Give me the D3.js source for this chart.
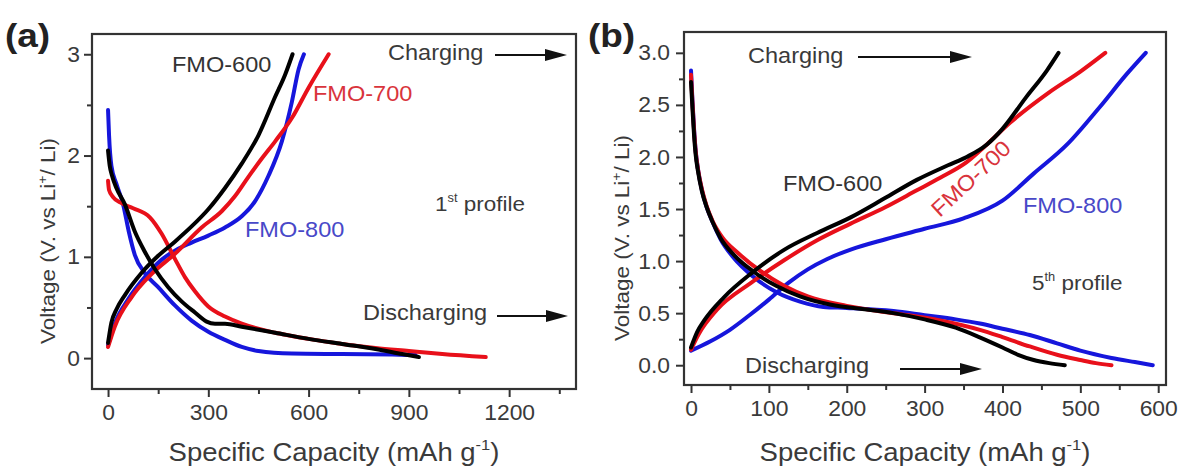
<!DOCTYPE html>
<html><head><meta charset="utf-8">
<script src="https://cdn.jsdelivr.net/npm/d3@7"></script>
<style>body{margin:0;background:#fff}svg{display:block}text{font-family:"Liberation Sans",Arial,sans-serif}</style>
</head><body><svg id="c" width="1180" height="468"></svg>
<script>
// ---------- tick values ----------
const aXTicks = [0, 300, 600, 900, 1200];
const aXMinor = [150, 450, 750, 1050, 1350];
const aYTicks = [0, 1, 2, 3];
const aYMinor = [0.5, 1.5, 2.5];
const bXTicks = [0, 100, 200, 300, 400, 500, 600];
const bXMinor = [50, 150, 250, 350, 450, 550];
const bYTicks = [0, 0.5, 1.0, 1.5, 2.0, 2.5, 3.0];
const bYMinor = [0.25, 0.75, 1.25, 1.75, 2.25, 2.75];

const seriesNames = ["FMO-600", "FMO-700", "FMO-800"];

// ---------- panel (a): 1st profile [capacity, voltage] ----------
const a600Dis = [[0,2.05],[5,1.9],[12,1.8],[25,1.68],[50,1.52],[80,1.25],[110,1.05],[140,0.88],[180,0.70],[220,0.56],[260,0.45],[295,0.36],[320,0.34],[350,0.34],[400,0.31],[500,0.25],[600,0.19],[700,0.14],[800,0.09],[880,0.04],[930,0.01]];
const a600Chg = [[0,0.15],[10,0.35],[25,0.48],[50,0.62],[100,0.84],[150,1.01],[200,1.15],[250,1.30],[300,1.47],[350,1.68],[400,1.92],[450,2.2],[500,2.58],[530,2.8],[552,3.0]];
const a700Dis = [[0,1.75],[3,1.66],[15,1.59],[40,1.53],[75,1.48],[125,1.39],[160,1.23],[200,0.98],[230,0.80],[260,0.66],[300,0.51],[350,0.41],[400,0.34],[500,0.25],[600,0.19],[700,0.14],[800,0.10],[900,0.07],[1000,0.04],[1130,0.01]];
const a700Chg = [[0,0.11],[20,0.31],[70,0.60],[130,0.83],[200,1.03],[280,1.29],[340,1.45],[380,1.6],[420,1.79],[460,1.97],[500,2.14],[550,2.37],[600,2.67],[660,3.0]];
const a800Dis = [[0,2.45],[3,2.2],[10,1.9],[25,1.72],[45,1.52],[62,1.25],[80,1.02],[110,0.84],[150,0.70],[200,0.52],[250,0.37],[300,0.26],[350,0.18],[400,0.11],[450,0.07],[550,0.045],[700,0.04],[850,0.035],[920,0.03]];
const a800Chg = [[0,0.13],[20,0.34],[60,0.58],[110,0.80],[160,0.97],[210,1.08],[250,1.14],[300,1.21],[350,1.29],[400,1.40],[440,1.55],[480,1.80],[520,2.14],[550,2.53],[570,2.85],[586,3.0]];

// ---------- panel (b): 5th profile ----------
const b600Dis = [[0,2.72],[2,2.45],[4,2.2],[6,2.02],[9,1.86],[14,1.67],[20,1.52],[28,1.37],[38,1.22],[55,1.06],[80,0.9],[110,0.76],[140,0.66],[180,0.58],[220,0.54],[260,0.5],[300,0.44],[340,0.36],[370,0.27],[400,0.17],[420,0.1],[440,0.05],[460,0.02],[480,0.0]];
const b600Chg = [[0,0.17],[8,0.32],[17,0.43],[42,0.65],[77,0.88],[120,1.11],[162,1.27],[205,1.42],[248,1.6],[290,1.78],[330,1.92],[354,2.0],[380,2.12],[400,2.27],[430,2.57],[457,2.83],[472,3.0]];
const b700Dis = [[0,2.79],[2,2.5],[4,2.24],[6,2.05],[9,1.88],[14,1.69],[20,1.53],[28,1.38],[40,1.23],[60,1.08],[90,0.9],[120,0.76],[150,0.66],[200,0.57],[240,0.52],[280,0.48],[320,0.43],[371,0.34],[400,0.27],[435,0.18],[470,0.1],[500,0.05],[520,0.02],[540,0.0]];
const b700Chg = [[0,0.15],[10,0.3],[33,0.53],[77,0.79],[120,1.01],[162,1.2],[205,1.36],[250,1.52],[290,1.68],[320,1.8],[354,1.95],[380,2.12],[410,2.33],[460,2.62],[500,2.82],[532,3.0]];
const b800Dis = [[0,2.83],[2,2.52],[4,2.26],[6,2.06],[9,1.88],[14,1.68],[20,1.52],[28,1.37],[38,1.21],[55,1.03],[80,0.85],[110,0.70],[140,0.61],[170,0.56],[200,0.55],[260,0.52],[300,0.48],[340,0.44],[371,0.40],[400,0.35],[435,0.29],[470,0.21],[500,0.14],[540,0.07],[570,0.03],[593,0.0]];
const b800Chg = [[0,0.14],[25,0.23],[50,0.34],[75,0.48],[100,0.63],[125,0.79],[150,0.92],[175,1.02],[205,1.11],[250,1.21],[300,1.31],[350,1.41],[400,1.58],[440,1.84],[483,2.12],[525,2.48],[560,2.8],[584,3.0]];

const colors = {"FMO-600":"#000000","FMO-700":"#e8101a","FMO-800":"#1616dc"};
const labelColors = {"FMO-600":"#333333","FMO-700":"#d9343c","FMO-800":"#4848c8"};
const textColor = "#3a3a3a";
const FONT = '"Liberation Sans", Arial, sans-serif';

const svg = d3.select("#c");

function stretch(sel, k) {
  sel.each(function () {
    const t = d3.select(this);
    const x = +t.attr("x") || 0;
    t.attr("x", x / k);
    const tr = t.attr("transform") || "";
    t.attr("transform", (tr + ` scale(${k},1)`).trim());
  });
}

function panel(cfg) {
  const x = d3.scaleLinear().domain(cfg.xDomain).range([cfg.left, cfg.right]);
  const y = d3.scaleLinear().domain(cfg.yDomain).range([cfg.bottom, cfg.top]);
  const g = svg.append("g");

  const line = d3.line().x(d => x(d[0])).y(d => y(d[1])).curve(d3.curveMonotoneX);
  cfg.series.forEach(s => {
    g.append("path").datum(s.data).attr("d", line)
      .attr("fill", "none").attr("stroke", colors[s.name])
      .attr("stroke-width", 4).attr("stroke-linecap", "round").attr("stroke-linejoin", "round");
  });

  g.append("rect").attr("x", cfg.left).attr("y", cfg.top)
    .attr("width", cfg.right - cfg.left).attr("height", cfg.bottom - cfg.top)
    .attr("fill", "none").attr("stroke", "#333").attr("stroke-width", 2.2);

  const styleAxis = sel => {
    sel.select(".domain").remove();
    sel.selectAll("line").attr("stroke", "#333").attr("stroke-width", 2);
    sel.selectAll("text").attr("fill", textColor).style("font-size", "22px").style("font-family", FONT);
  };
  g.append("g").attr("transform", `translate(0,${cfg.bottom})`)
    .call(d3.axisBottom(x).tickValues(cfg.xTicks).tickSize(8).tickPadding(7).tickFormat(d3.format("d")))
    .call(styleAxis).call(s => stretch(s.selectAll("text"), 1.04));
  g.append("g").attr("transform", `translate(0,${cfg.bottom})`)
    .call(d3.axisBottom(x).tickValues(cfg.xMinor).tickSize(5).tickFormat(""))
    .call(styleAxis);
  g.append("g").attr("transform", `translate(${cfg.left},0)`)
    .call(d3.axisLeft(y).tickValues(cfg.yTicks).tickSize(8).tickPadding(cfg.yPad).tickFormat(d3.format(cfg.yFmt)))
    .call(styleAxis).call(s => stretch(s.selectAll("text"), 1.04));
  g.append("g").attr("transform", `translate(${cfg.left},0)`)
    .call(d3.axisLeft(y).tickValues(cfg.yMinor).tickSize(5).tickFormat(""))
    .call(styleAxis);

  const xt = g.append("text").attr("x", (cfg.left + cfg.right) / 2).attr("y", 461)
    .attr("text-anchor", "middle").attr("fill", textColor).style("font-size", "25px");
  xt.append("tspan").text("Specific Capacity (mAh g");
  xt.append("tspan").text("-1").style("font-size", "15px").attr("dy", -11);
  xt.append("tspan").text(")").attr("dy", 11);
  stretch(xt, 1.1);

  const yt = g.append("text").attr("transform", `translate(${cfg.yTitleX},${cfg.yTitleY}) rotate(-90)`)
    .attr("text-anchor", "middle").attr("fill", textColor).style("font-size", "21px");
  yt.append("tspan").text("Voltage (V. vs Li");
  yt.append("tspan").text("+").style("font-size", "13px").attr("dy", -8);
  yt.append("tspan").text("/ Li)").attr("dy", 8);
  stretch(yt, 1.07);

  const lt = g.append("text").attr("x", cfg.letterX).attr("y", 47).attr("fill", "#222")
    .style("font-size", "33px").style("font-weight", "bold").text(cfg.letter);
  stretch(lt, 1.12);

  cfg.labels.forEach(l => {
    const t = g.append("text").attr("fill", l.color).style("font-size", (l.size || 22) + "px")
      .attr("text-anchor", l.anchor || "start")
      .attr("transform", `translate(${l.x},${l.y})` + (l.rot ? ` rotate(${l.rot})` : ""));
    if (l.sup) {
      t.append("tspan").text(l.text);
      t.append("tspan").text(l.sup).style("font-size", "12px").attr("dy", -9);
      t.append("tspan").text(l.rest).attr("dy", 9);
    } else t.text(l.text);
    stretch(t, l.k || 1.07);
  });

  cfg.arrows.forEach(a => {
    g.append("line").attr("x1", a.x1).attr("x2", a.x2 - 16).attr("y1", a.y).attr("y2", a.y)
      .attr("stroke", "#111").attr("stroke-width", 2);
    g.append("path").attr("d", `M${a.x2},${a.y} L${a.x2 - 22},${a.y - 6} L${a.x2 - 22},${a.y + 6} Z`).attr("fill", "#111");
  });
}

panel({
  left: 92, right: 576, top: 34, bottom: 389,
  xDomain: [-48, 1400], yDomain: [-0.305, 3.2],
  xTicks: aXTicks, xMinor: aXMinor, yTicks: aYTicks, yMinor: aYMinor, yFmt: "d", yPad: 4,
  yTitleX: 55, yTitleY: 241, letter: "(a)", letterX: 5,
  series: [
    {name: "FMO-800", data: a800Chg}, {name: "FMO-800", data: a800Dis},
    {name: "FMO-700", data: a700Chg}, {name: "FMO-700", data: a700Dis},
    {name: "FMO-600", data: a600Chg}, {name: "FMO-600", data: a600Dis}
  ],
  labels: [
    {text: seriesNames[0], x: 172, y: 72, color: labelColors["FMO-600"]},
    {text: seriesNames[1], x: 313, y: 101, color: labelColors["FMO-700"]},
    {text: seriesNames[2], x: 245, y: 237, color: labelColors["FMO-800"]},
    {text: "Charging", x: 388, y: 60, color: textColor},
    {text: "Discharging", x: 363, y: 320, color: textColor},
    {text: "1", sup: "st", rest: " profile", x: 435, y: 211, color: textColor, size: 21}
  ],
  arrows: [{x1: 495, x2: 567, y: 55}, {x1: 497, x2: 568, y: 316}]
});

panel({
  left: 684, right: 1166, top: 32, bottom: 385,
  xDomain: [-9, 610], yDomain: [-0.19, 3.2],
  xTicks: bXTicks, xMinor: bXMinor, yTicks: bYTicks, yMinor: bYMinor, yFmt: ".1f", yPad: 6,
  yTitleX: 629, yTitleY: 238, letter: "(b)", letterX: 588,
  series: [
    {name: "FMO-800", data: b800Chg}, {name: "FMO-800", data: b800Dis},
    {name: "FMO-700", data: b700Chg}, {name: "FMO-700", data: b700Dis},
    {name: "FMO-600", data: b600Chg}, {name: "FMO-600", data: b600Dis}
  ],
  labels: [
    {text: seriesNames[0], x: 783, y: 191, color: labelColors["FMO-600"]},
    {text: seriesNames[1], x: 976, y: 184, color: labelColors["FMO-700"], rot: -43, anchor: "middle"},
    {text: seriesNames[2], x: 1023, y: 213, color: labelColors["FMO-800"]},
    {text: "Charging", x: 748, y: 63, color: textColor},
    {text: "Discharging", x: 745, y: 373, color: textColor},
    {text: "5", sup: "th", rest: " profile", x: 1032, y: 290, color: textColor, size: 21}
  ],
  arrows: [{x1: 858, x2: 972, y: 57}, {x1: 900, x2: 982, y: 369}]
});
</script></body></html>
